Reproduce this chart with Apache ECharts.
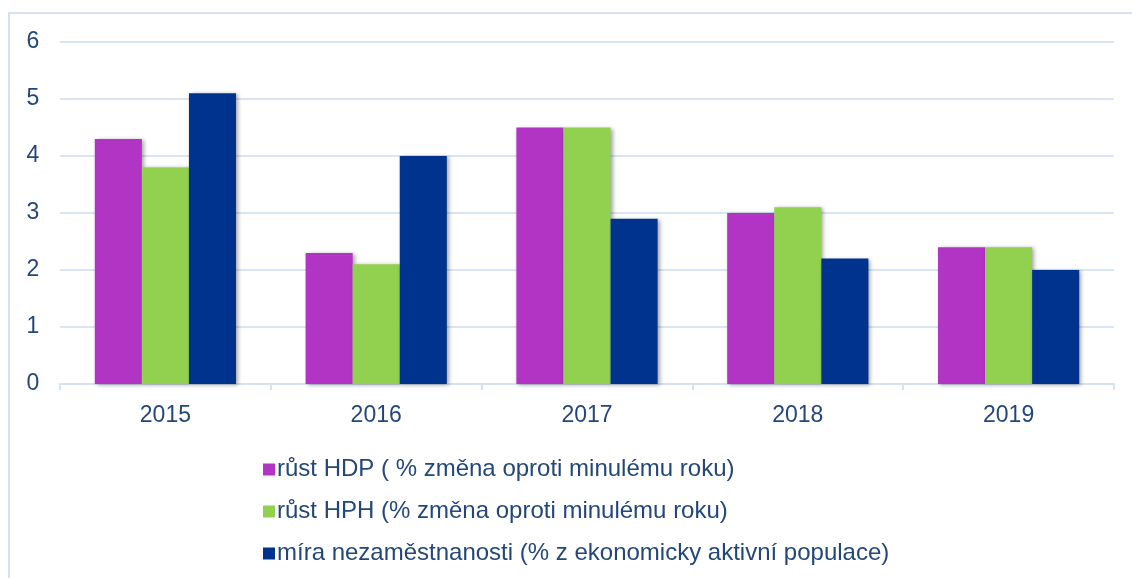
<!DOCTYPE html>
<html>
<head>
<meta charset="utf-8">
<script src="https://cdn.jsdelivr.net/npm/echarts@6/dist/echarts.min.js"></script>
<style>
  html, body { margin: 0; padding: 0; background: #fff; }
  #chart { width: 1132px; height: 578px; }
</style>
</head>
<body>
<div id="chart"></div>
<script>
// data
var years = ['2015', '2016', '2017', '2018', '2019'];
var rustHdp = [4.3, 2.3, 4.5, 3.0, 2.4];
var rustHph = [3.8, 2.1, 4.5, 3.1, 2.4];
var nezam = [5.1, 4.0, 2.9, 2.2, 2.0];
var seriesNames = [
  'růst HDP ( % změna oproti minulému roku)',
  'růst HPH (% změna oproti minulému roku)',
  'míra nezaměstnanosti (% z ekonomicky aktivní populace)'
];
var colors = ['#B234C4', '#92D050', '#00338D'];

var myChart = echarts.init(document.getElementById('chart'));

var textColor = '#24477A';
var font = 'Liberation Sans, Arial, sans-serif';
var barStyle = function (c) {
  return {
    color: c,
    shadowColor: 'rgba(0,0,0,0.35)',
    shadowBlur: 4,
    shadowOffsetX: 2,
    shadowOffsetY: 1
  };
};

myChart.setOption({
  animation: false,
  color: colors,
  graphic: [{
    type: 'rect',
    shape: { x: 9, y: 13, width: 1200, height: 700 },
    style: { fill: 'none', stroke: '#D6E2F0', lineWidth: 2 },
    silent: true
  }],
  grid: { left: 60, right: 18, top: 42, bottom: 194 },
  legend: {
    orient: 'vertical',
    left: 258,
    top: 452,
    itemGap: 17,
    itemWidth: 12,
    itemHeight: 12,
    icon: 'rect',
    textStyle: { color: textColor, fontSize: 24, lineHeight: 25, fontFamily: font, padding: [0, 0, 0, -3] },
    data: seriesNames
  },
  xAxis: {
    type: 'category',
    data: years,
    axisLine: { lineStyle: { color: '#D6E2F0', width: 2 } },
    axisTick: { show: true, length: 6, lineStyle: { color: '#D6E2F0', width: 2 } },
    axisLabel: { color: textColor, fontSize: 23, margin: 20, fontFamily: font }
  },
  yAxis: {
    type: 'value',
    min: 0,
    max: 6,
    interval: 1,
    axisLine: { show: false },
    axisTick: { show: false },
    splitLine: { lineStyle: { color: '#D9E5F3', width: 2 } },
    axisLabel: { color: textColor, fontSize: 23, margin: 27, align: 'center', fontFamily: font }
  },
  series: [
    { name: seriesNames[0], type: 'bar', data: rustHdp, barGap: '0%', barCategoryGap: '33%', itemStyle: barStyle(colors[0]) },
    { name: seriesNames[1], type: 'bar', data: rustHph, barGap: '0%', barCategoryGap: '33%', itemStyle: barStyle(colors[1]) },
    { name: seriesNames[2], type: 'bar', data: nezam, barGap: '0%', barCategoryGap: '33%', itemStyle: barStyle(colors[2]) }
  ]
});
</script>
</body>
</html>
